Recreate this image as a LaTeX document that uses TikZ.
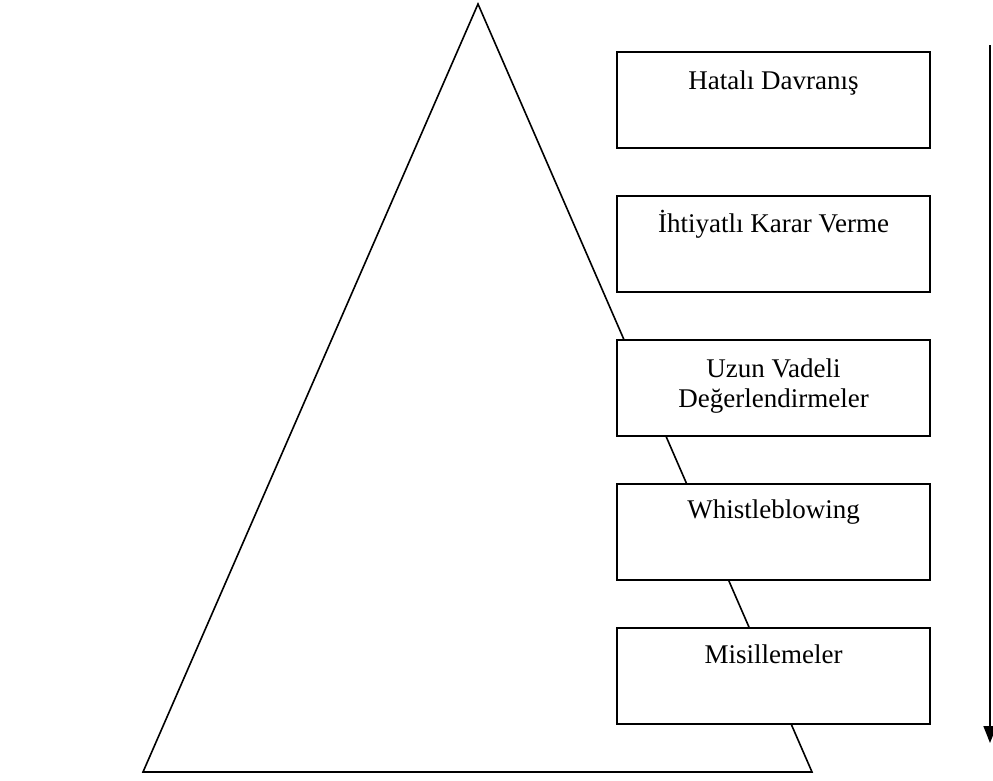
\documentclass[tikz,border=0pt]{standalone}
\usepackage{fontspec}
\setmainfont{Liberation Serif}
\usetikzlibrary{arrows.meta}
\begin{document}
\begin{tikzpicture}[x=1pt,y=-1pt,
  stagebox/.style={draw=black,line width=1.8pt,fill=white,minimum width=313pt,minimum height=96pt,inner sep=0pt},
  stagetext/.style={font=\fontsize{27}{30}\selectfont,inner sep=0pt,align=center},
  edge/.style={line width=1.6pt,line join=miter}]
\useasboundingbox (0,0) rectangle (993,780);
% pyramid
\coordinate (apex) at (478,4);
\coordinate (bl) at (143,772);
\coordinate (br) at (812,772);
\draw[edge] (apex) -- (br) -- (bl) -- cycle;
% boxes
\node[stagebox] (b1) at (773.5,100) {};
\node[stagebox] (b2) at (773.5,244) {};
\node[stagebox] (b3) at (773.5,388) {};
\node[stagebox] (b4) at (773.5,532) {};
\node[stagebox] (b5) at (773.5,676) {};
\node[stagetext,anchor=base] (t1) at (773.5,89) {Hatalı Davranış};
\node[stagetext,anchor=base] (t2) at (773.5,232) {İhtiyatlı Karar Verme};
\node[stagetext,anchor=north] (t3) at (773.5,358.5) {Uzun Vadeli\\Değerlendirmeler};
\node[stagetext,anchor=base] (t4) at (773.5,518) {Whistleblowing};
\node[stagetext,anchor=base] (t5) at (773.5,663) {Misillemeler};
% arrow
\coordinate (atop) at (990,45);
\coordinate (abot) at (990,743);
\draw[line width=1.6pt,-{Triangle[length=17pt,width=13pt]}] (atop) -- (abot);
\end{tikzpicture}
\end{document}
